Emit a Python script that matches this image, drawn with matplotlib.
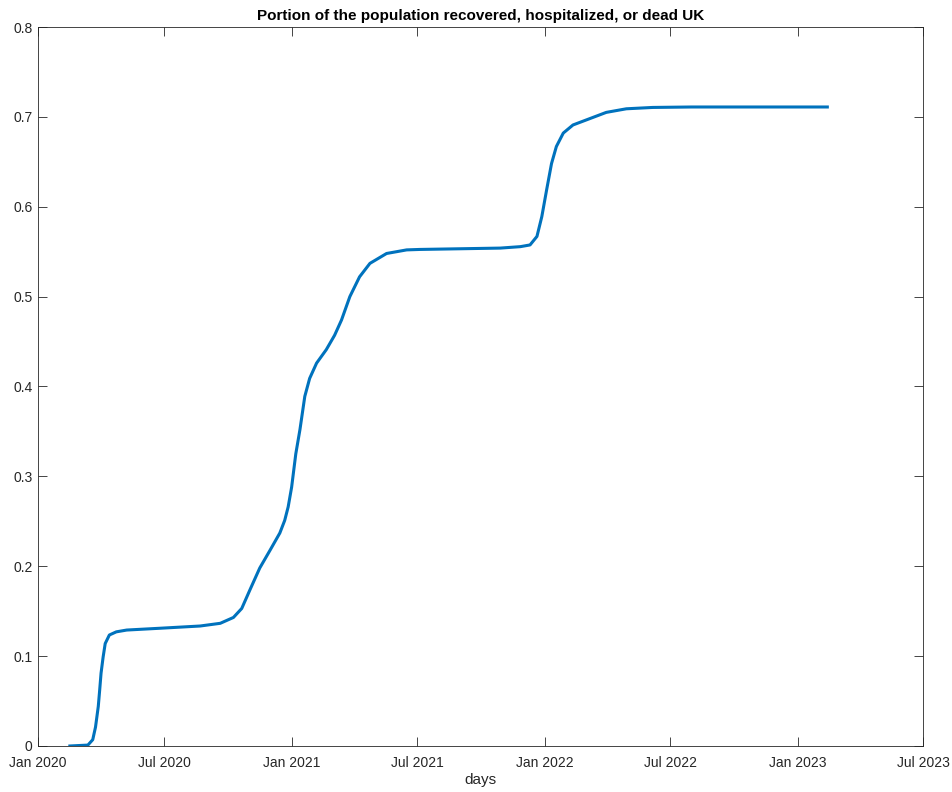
import matplotlib
matplotlib.use("Agg")
import matplotlib.pyplot as plt
import numpy as np

# values
dates = np.array([
    "2020-02-16", "2020-03-13", "2020-03-20", "2020-03-24", "2020-03-28",
    "2020-03-30", "2020-04-01", "2020-04-04", "2020-04-07", "2020-04-13",
    "2020-04-23", "2020-05-08", "2020-06-25", "2020-08-22", "2020-09-20",
    "2020-10-09", "2020-10-21", "2020-11-02", "2020-11-16", "2020-12-01",
    "2020-12-15", "2020-12-22", "2020-12-27", "2021-01-01", "2021-01-07",
    "2021-01-13", "2021-01-20", "2021-01-27", "2021-02-06", "2021-02-20",
    "2021-03-04", "2021-03-14", "2021-03-26", "2021-04-09", "2021-04-24",
    "2021-05-18", "2021-06-16", "2021-07-05", "2021-10-29", "2021-11-27",
    "2021-12-11", "2021-12-21", "2021-12-28", "2022-01-04", "2022-01-11",
    "2022-01-18", "2022-01-28", "2022-02-11", "2022-03-07", "2022-03-31",
    "2022-04-29", "2022-06-06", "2022-08-01", "2023-02-13",
], dtype="datetime64[D]")
portion = [
    0.000, 0.001, 0.007, 0.021, 0.044,
    0.062, 0.081, 0.099, 0.114, 0.1235,
    0.127, 0.129, 0.131, 0.1335, 0.1365,
    0.143, 0.153, 0.174, 0.198, 0.218,
    0.237, 0.251, 0.266, 0.288, 0.325,
    0.352, 0.389, 0.409, 0.426, 0.441,
    0.457, 0.474, 0.500, 0.522, 0.537,
    0.548, 0.552, 0.5525, 0.554, 0.5556,
    0.5575, 0.567, 0.589, 0.619, 0.648,
    0.667, 0.682, 0.691, 0.698, 0.705,
    0.709, 0.7105, 0.711, 0.711,
]
tick_dates = np.array(["2020-01-01", "2020-07-01", "2021-01-01", "2021-07-01",
                       "2022-01-01", "2022-07-01", "2023-01-01", "2023-07-01"],
                      dtype="datetime64[D]")
tick_labels = ["Jan 2020", "Jul 2020", "Jan 2021", "Jul 2021",
               "Jan 2022", "Jul 2022", "Jan 2023", "Jul 2023"]

plt.rcParams["font.family"] = ["Liberation Sans", "DejaVu Sans"]
axis_col = "#262626"

fig = plt.figure(figsize=(9.52, 7.92), dpi=100)
ax = fig.add_axes([0.0399, 0.0581, 0.9296, 0.9078])

ax.plot(dates, portion, color="#0072BD", linewidth=2.2,
        solid_joinstyle="round")

ax.set_xlim(tick_dates[0], tick_dates[-1])
ax.set_ylim(0, 0.8)
ax.set_xticks(tick_dates)
ax.set_xticklabels(tick_labels)
ax.set_yticks(np.arange(0, 0.81, 0.1))
ax.set_yticklabels(["0", "0.1", "0.2", "0.3", "0.4", "0.5", "0.6", "0.7", "0.8"])

ax.tick_params(direction="in", length=6.5, width=0.6, colors=axis_col,
               labelsize=10, top=True, right=True, pad=4)
ax.tick_params(axis="x", pad=7.5)
for s in ax.spines.values():
    s.set_color(axis_col)
    s.set_linewidth(0.6)

ax.set_title("Portion of the population recovered, hospitalized, or dead UK",
             fontsize=11, fontweight="bold", color="black", pad=5)
ax.set_xlabel("days", fontsize=11, color=axis_col, labelpad=2)

fig.savefig("out.png", dpi=100)
